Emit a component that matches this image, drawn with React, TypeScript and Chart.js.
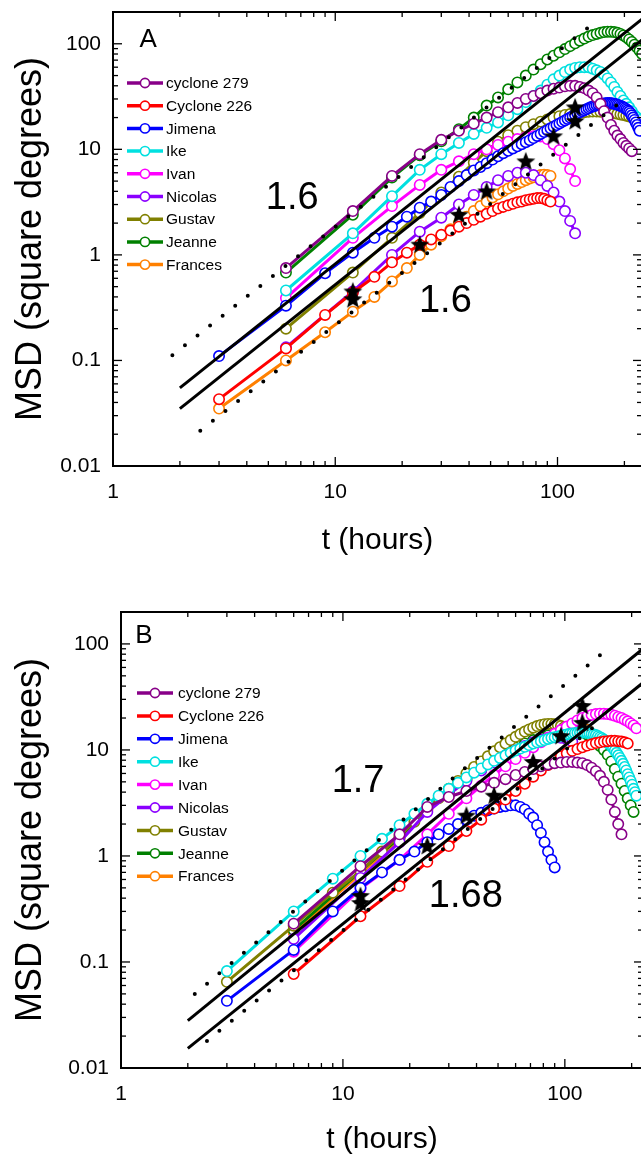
import React, { useEffect, useRef } from 'react';
import { Chart, registerables } from 'chart.js';

Chart.register(...registerables);

const FONT = "'Liberation Sans', Arial, Helvetica, sans-serif";

// sampling times (hours)
const hours3 = [3, 6, 9, 12, 15, 18, 21, 24, 27, 30, 33, 36, 39, 42, 45, 48, 51, 54, 57, 60, 63, 66, 69, 72, 75, 78, 81, 84, 87, 90, 93, 96, 99, 102, 105, 108, 111, 114, 117, 120, 123, 126, 129, 132, 135, 138, 141, 144, 147, 150, 153, 156, 159, 162, 165, 168, 171, 174, 177, 180, 183, 186, 189, 192, 195, 198, 201, 204, 207, 210, 213, 216, 219, 222, 225, 228, 231, 234, 237, 240];
const hours6 = [6, 12, 18, 24, 30, 36, 42, 48, 54, 60, 66, 72, 78, 84, 90, 96, 102, 108, 114, 120, 126, 132, 138, 144, 150, 156, 162, 168, 174, 180, 186, 192, 198, 204, 210, 216, 222, 228, 234, 240];

const seriesNames = ['cyclone 279', 'Cyclone 226', 'Jimena', 'Ike', 'Ivan', 'Nicolas', 'Gustav', 'Jeanne', 'Frances'];
const seriesColors = ['#880088', '#ff0000', '#0000ff', '#00e0e0', '#ff00ff', '#8b00ff', '#808000', '#008000', '#ff8000'];

// ---------- Panel A values (MSD, square degrees) ----------
const msdA_279 = [0.75, 2.6, 5.6, 9.0, 12.3, 15.0, 17.5, 20, 22.5, 25, 27.5, 30, 32, 34, 36, 37.5, 38.5, 39.5, 40, 40, 39, 38, 36, 34, 31, 27, 23, 20, 17, 15, 13.5, 12.5, 11.5, 10.8, 10.2, 9.6];
const msdA_226 = [0.043, 0.13, 0.27, 0.44, 0.62, 0.85, 1.05, 1.25, 1.4, 1.55, 1.7, 1.85, 2.0, 2.15, 2.3, 2.45, 2.6, 2.75, 2.85, 2.95, 3.05, 3.15, 3.2, 3.3, 3.35, 3.4, 3.45, 3.45, 3.4, 3.3, 3.2];
const msdA_Jimena = [0.11, 0.33, 0.67, 1.05, 1.45, 1.85, 2.3, 2.8, 3.2, 3.7, 4.4, 5.0, 5.7, 6.3, 6.8, 7.4, 8.0, 8.6, 9.2, 9.7, 10.2, 10.7, 11.2, 11.7, 12.2, 12.8, 13.4, 14, 14.6, 15.2, 15.8, 16.4, 17, 17.6, 18.2, 18.8, 19.4, 20, 20.6, 21.2, 21.8, 22.4, 23, 23.5, 24, 24.5, 25, 25.4, 25.8, 26.2, 26.5, 26.8, 27, 27.2, 27.3, 27.4, 27.4, 27.3, 27.2, 27, 26.8, 26.5, 26.2, 25.8, 25.4, 25, 24.5, 24, 23.4, 22.8, 22, 21, 20, 19, 18, 17, 16, 15];
const msdA_Ike = [0.46, 1.6, 3.6, 6.4, 9.0, 11.5, 14, 16, 18, 21, 24, 28, 32, 36, 41, 46, 50, 54, 57, 59, 60, 60, 60, 58, 56, 54, 51, 47, 43, 39, 35, 32, 29, 27, 25, 23, 21, 20, 19];
const msdA_Ivan = [0.39, 1.45, 2.9, 4.6, 6.4, 7.7, 9.0, 10, 11, 11.8, 12.5, 13, 13.3, 13.2, 12.5, 11.2, 9.8, 8.2, 6.5, 5.0];
const msdA_Nicolas = [0.133, 0.45, 1.0, 1.66, 2.25, 3.0, 3.7, 4.4, 5.1, 5.6, 6.0, 6.0, 5.7, 5.1, 4.5, 3.9, 3.2, 2.6, 2.1, 1.6];
const msdA_Gustav = [0.2, 0.68, 1.45, 2.5, 3.9, 5.5, 7.5, 9.6, 11.8, 13.6, 15, 16.2, 17.3, 18.3, 19.2, 20, 20.6, 21.2, 21.6, 22, 22.3, 22.5, 22.7, 22.8, 22.8, 22.7, 22.6, 22.4, 22.2, 22, 21.7, 21.4, 21.1, 20.8, 20.5, 20.2, 19.8, 19.4];
const msdA_Jeanne = [0.68, 2.4, 5.4, 8.8, 11.9, 15.5, 20, 26, 31, 37, 43, 50, 57, 64, 71, 77, 83, 89, 95, 101, 107, 112, 117, 121, 124, 127, 129, 130, 130, 129, 127, 124, 120, 115, 110, 104, 98, 92, 86, 80];
const msdA_Frances = [0.035, 0.1, 0.185, 0.29, 0.4, 0.56, 0.75, 1.0, 1.25, 1.5, 1.75, 2.0, 2.3, 2.6, 2.9, 3.2, 3.5, 3.75, 4.0, 4.25, 4.5, 4.7, 4.9, 5.1, 5.3, 5.45, 5.6, 5.7, 5.75, 5.7, 5.6];

// ---------- Panel B values ----------
const msdB_279 = [0.23, 0.8, 1.6, 2.9, 3.6, 4.1, 4.5, 4.9, 5.3, 5.8, 6.2, 6.6, 7.0, 7.3, 7.5, 7.6, 7.7, 7.7, 7.6, 7.5, 7.2, 6.8, 6.3, 5.7, 5.0, 4.2, 3.4, 2.6, 2.0, 1.6];
const msdB_226 = [0.077, 0.27, 0.52, 0.88, 1.24, 1.72, 2.2, 2.8, 3.4, 4.1, 4.8, 5.6, 6.4, 7.2, 8.0, 8.7, 9.3, 9.8, 10.2, 10.6, 11.0, 11.3, 11.6, 11.8, 12.0, 12.1, 12.2, 12.2, 12.1, 12.0, 11.8, 11.5];
const msdB_Jimena = [0.043, 0.13, 0.3, 0.5, 0.7, 0.92, 1.1, 1.35, 1.6, 1.8, 2.0, 2.2, 2.4, 2.55, 2.7, 2.8, 2.9, 2.95, 3.0, 3.0, 2.9, 2.75, 2.5, 2.3, 1.95, 1.65, 1.35, 1.1, 0.92, 0.78];
const msdB_Ike = [0.082, 0.30, 0.61, 1.0, 1.45, 1.95, 2.5, 3.1, 3.7, 4.3, 4.9, 5.5, 6.1, 6.7, 7.3, 7.9, 8.4, 8.9, 9.4, 9.9, 10.3, 10.7, 11.1, 11.5, 11.8, 12.1, 12.4, 12.7, 13.0, 13.2, 13.4, 13.6, 13.8, 14.0, 14.2, 14.3, 14.4, 14.5, 14.6, 14.6, 14.6, 14.5, 14.4, 14.2, 14.0, 13.8, 13.5, 13.2, 12.9, 12.5, 12.1, 11.7, 11.3, 10.9, 10.4, 9.9, 9.4, 8.9, 8.4, 7.9, 7.4, 6.9, 6.4, 5.9, 5.5, 5.1, 4.7, 4.3, 4.0, 3.7];
const msdB_Ivan = [0.125, 0.49, 0.92, 1.6, 2.5, 3.5, 4.6, 5.8, 7.0, 8.2, 9.4, 10.6, 11.8, 13, 14.2, 15.4, 16.6, 17.8, 19, 20, 20.8, 21.4, 21.8, 22, 22, 21.8, 21.5, 21, 20.5, 20, 19.3, 18.6, 17.8, 17, 16];
const msdB_Nicolas = [0.165, 0.62, 1.35, 2.6, 3.8, 5.1, 6.4, 7.6, 8.8, 9.9, 10.9, 11.8, 12.5, 13.0, 13.2, 13.0, 12.6, 12.0];
const msdB_Gustav = [0.065, 0.22, 0.45, 0.72, 1.1, 1.55, 2.1, 2.8, 3.5, 4.3, 5.1, 6.0, 6.9, 7.8, 8.7, 9.7, 10.6, 11.5, 12.4, 13.3, 14.1, 14.9, 15.6, 16.2, 16.8, 17.2, 17.5, 17.6, 17.6, 17.5, 17.2, 16.8, 16.3, 15.7, 15.0, 14.2];
const msdB_Jeanne = [0.2, 0.72, 1.5, 2.8, 4.0, 5.3, 6.6, 8.0, 9.3, 10.5, 11.5, 12.4, 13.1, 13.7, 14.2, 14.6, 14.9, 15.0, 15.0, 14.7, 14.0, 13.0, 12.0, 10.9, 10.0, 9.0, 7.8, 6.6, 5.6, 4.8, 4.1, 3.5, 3.0, 2.6];
const msdB_Frances = [0.19, 0.68, 1.45, 2.7, 3.9, 5.2, 6.5, 7.9, 9.1, 10.2, 11.2, 12.0, 12.8, 13.4, 13.8, 14.2, 14.6, 15.0, 15.3, 15.5, 15.5];

// ---------- fits, guide lines, stars ----------
const fitHoursA = [2, 240];
const fitUpperA = [0.055, 171];
const fitLowerA = [0.035, 109];
const dotUpperHoursA = [1.85, 150];
const dotUpperA = [0.112, 165];
const dotLowerHoursA = [2.47, 200];
const dotLowerA = [0.0216, 30];

const fitHoursB = [2, 225];
const fitUpperB = [0.028, 90];
const fitLowerB = [0.0153, 43];
const dotUpperHoursB = [2.15, 150];
const dotUpperB = [0.05, 84];
const dotLowerHoursB = [2.44, 150];
const dotLowerB = [0.018, 19.8];

const starHours = [12, 12, 24, 36, 48, 72, 96, 120, 120];
const starsA = [0.45, 0.38, 1.25, 2.4, 4.0, 7.7, 13.3, 25, 18.5];
const starsB = [0.42, 0.36, 1.24, 2.4, 3.7, 7.7, 13.5, 26, 18];

const decadeLabels = ['0.01', '0.1', '1', '10', '100'];

const panels = [
  {
    letter: 'A', top: 0, height: 580, left: 113, padTop: 12, xAxisH: 114, padRight: 18, xMax: 240, xTitlePad: 21,
    series: [msdA_279, msdA_226, msdA_Jimena, msdA_Ike, msdA_Ivan, msdA_Nicolas, msdA_Gustav, msdA_Jeanne, msdA_Frances],
    times: [hours6, hours3, hours3, hours6, hours6, hours6, hours6, hours6, hours3],
    fitHours: fitHoursA, fitUpper: fitUpperA, fitLower: fitLowerA,
    dotUpperHours: dotUpperHoursA, dotUpper: dotUpperA, dotLowerHours: dotLowerHoursA, dotLower: dotLowerA,
    stars: starsA,
    legend: { x0: 14, x1: 50, cx: 32, tx: 53, y0: 71, dy: 22.7 },
    texts: [
      { text: 'A', t: 1.44, v: 108, size: 26 },
      { text: '1.6', t: 6.4, v: 3.4, size: 38 },
      { text: '1.6', t: 31.3, v: 0.365, size: 38 },
    ],
  },
  {
    letter: 'B', top: 580, height: 578, left: 121, padTop: 32, xAxisH: 90, padRight: 17, xMax: 225, xTitlePad: 0,
    series: [msdB_279, msdB_226, msdB_Jimena, msdB_Ike, msdB_Ivan, msdB_Nicolas, msdB_Gustav, msdB_Jeanne, msdB_Frances],
    times: [hours6, hours6, hours3, hours3, hours6, hours6, hours3, hours6, hours6],
    fitHours: fitHoursB, fitUpper: fitUpperB, fitLower: fitLowerB,
    dotUpperHours: dotUpperHoursB, dotUpper: dotUpperB, dotLowerHours: dotLowerHoursB, dotLower: dotLowerB,
    stars: starsB,
    legend: { x0: 16, x1: 52, cx: 34, tx: 57, y0: 81, dy: 22.9 },
    texts: [
      { text: 'B', t: 1.27, v: 119, size: 26 },
      { text: '1.7', t: 11.7, v: 5.0, size: 38 },
      { text: '1.68', t: 35.8, v: 0.41, size: 38 },
    ],
  },
];

const CANVAS_W = 660;

function toPoints(ts: number[], vs: number[]) {
  return vs.map((v, i) => ({ x: ts[i], y: v }));
}

function makeStar(): HTMLCanvasElement {
  const c = document.createElement('canvas');
  c.width = 22;
  c.height = 22;
  const g = c.getContext('2d')!;
  g.fillStyle = '#000';
  g.beginPath();
  for (let i = 0; i < 10; i++) {
    const r = i % 2 === 0 ? 10 : 4.3;
    const a = -Math.PI / 2 + (i * Math.PI) / 5;
    const px = 11 + r * Math.cos(a);
    const py = 11.5 + r * Math.sin(a);
    if (i === 0) g.moveTo(px, py);
    else g.lineTo(px, py);
  }
  g.closePath();
  g.fill();
  return c;
}

function decadeLabel(value: any) {
  const l = Math.log10(Number(value));
  const r = Math.round(l);
  if (Math.abs(l - r) < 1e-6 && r >= -2 && r <= 2) return decadeLabels[r + 2];
  return null;
}

const decoPlugin = {
  id: 'deco',
  afterDraw(chart: any, _args: any, opts: any) {
    const { ctx, chartArea: a } = chart;
    const xs = chart.scales.x;
    const ys = chart.scales.y;
    ctx.save();
    ctx.strokeStyle = '#000';
    ctx.lineWidth = 1.3;
    const seg = (x1: number, y1: number, x2: number, y2: number) => {
      ctx.beginPath();
      ctx.moveTo(x1, y1);
      ctx.lineTo(x2, y2);
      ctx.stroke();
    };
    for (const d of [1, 10, 100]) {
      for (let m = 1; m <= 9; m++) {
        const v = d * m;
        if (v > xs.max) continue;
        const px = xs.getPixelForValue(v);
        const len = m === 1 ? 9 : 5;
        seg(px, a.bottom, px, a.bottom - len);
        seg(px, a.top, px, a.top + len);
      }
    }
    for (const d of [0.01, 0.1, 1, 10, 100]) {
      for (let m = 1; m <= 9; m++) {
        const v = d * m;
        if (v > ys.max * 1.0001) continue;
        const py = ys.getPixelForValue(v);
        const len = m === 1 ? 9 : 5;
        seg(a.left, py, a.left + len, py);
        seg(a.right, py, a.right - len, py);
      }
    }
    ctx.lineWidth = 2;
    ctx.strokeRect(a.left, a.top, a.right - a.left, a.bottom - a.top);

    // legend
    const lg = opts.legend;
    const dsets = chart.data.datasets;
    for (let i = 0; i < seriesNames.length; i++) {
      const ds = dsets[i];
      const y = a.top + lg.y0 + i * lg.dy;
      ctx.strokeStyle = ds.borderColor;
      ctx.lineWidth = 3.5;
      seg(a.left + lg.x0, y, a.left + lg.x1, y);
      ctx.beginPath();
      ctx.arc(a.left + lg.cx, y, 4.6, 0, Math.PI * 2);
      ctx.fillStyle = '#fff';
      ctx.fill();
      ctx.lineWidth = 1.6;
      ctx.stroke();
      ctx.fillStyle = '#000';
      ctx.font = `15.5px ${FONT}`;
      ctx.textAlign = 'left';
      ctx.textBaseline = 'middle';
      ctx.fillText(ds.label, a.left + lg.tx, y + 1);
    }

    // annotations
    for (const t of opts.texts) {
      ctx.fillStyle = '#000';
      ctx.font = `${t.size}px ${FONT}`;
      ctx.textAlign = 'center';
      ctx.textBaseline = 'middle';
      ctx.fillText(t.text, xs.getPixelForValue(t.t), ys.getPixelForValue(t.v));
    }
    ctx.restore();
  },
};

function buildConfig(p: any, star: HTMLCanvasElement): any {
  const datasets: any[] = p.series.map((vals: number[], i: number) => ({
    label: seriesNames[i],
    data: toPoints(p.times[i], vals),
    showLine: true,
    borderColor: seriesColors[i],
    backgroundColor: seriesColors[i],
    borderWidth: 3,
    pointRadius: 5.2,
    pointHoverRadius: 5.2,
    pointBorderWidth: 1.6,
    pointBorderColor: seriesColors[i],
    pointBackgroundColor: '#ffffff',
    order: 0,
  }));
  const guide = (label: string, ts: number[], vs: number[], dotted: boolean) => ({
    label,
    data: toPoints(ts, vs),
    showLine: true,
    borderColor: '#000',
    backgroundColor: '#000',
    borderWidth: dotted ? 4 : 3,
    borderDash: dotted ? [0, 16] : [],
    borderCapStyle: dotted ? 'round' : 'butt',
    pointRadius: 0,
    pointHoverRadius: 0,
    order: dotted ? -1 : -2,
  });
  datasets.push(guide('fit upper', p.fitHours, p.fitUpper, false));
  datasets.push(guide('fit lower', p.fitHours, p.fitLower, false));
  datasets.push(guide('guide upper', p.dotUpperHours, p.dotUpper, true));
  datasets.push(guide('guide lower', p.dotLowerHours, p.dotLower, true));
  datasets.push({
    label: 'mean',
    data: toPoints(starHours, p.stars),
    showLine: false,
    pointStyle: star,
    pointRadius: 10,
    pointHoverRadius: 10,
    order: -3,
  });

  return {
    type: 'scatter',
    data: { datasets },
    plugins: [decoPlugin],
    options: {
      animation: false,
      responsive: false,
      maintainAspectRatio: false,
      devicePixelRatio: 1,
      events: [],
      layout: { padding: { left: 0, top: p.padTop, right: p.padRight, bottom: 0 } },
      elements: { line: { tension: 0 } },
      plugins: {
        legend: { display: false },
        tooltip: { enabled: false },
        deco: { legend: p.legend, texts: p.texts },
      },
      scales: {
        x: {
          type: 'logarithmic',
          min: 1,
          max: p.xMax,
          grid: { display: false, drawTicks: false },
          border: { display: false },
          ticks: {
            autoSkip: false,
            maxRotation: 0,
            padding: 14,
            color: '#000',
            font: { family: FONT, size: 21 },
            callback: decadeLabel,
          },
          title: {
            display: true,
            text: 't (hours)',
            color: '#000',
            font: { family: FONT, size: 30 },
            padding: { top: 0, bottom: p.xTitlePad },
          },
          afterFit: (s: any) => {
            s.height = p.xAxisH;
            s.paddingLeft = 0;
            s.paddingRight = 0;
          },
        },
        y: {
          type: 'logarithmic',
          min: 0.01,
          max: 200,
          grid: { display: false, drawTicks: false },
          border: { display: false },
          ticks: {
            autoSkip: false,
            padding: 12,
            color: '#000',
            font: { family: FONT, size: 21 },
            callback: decadeLabel,
          },
          title: {
            display: true,
            text: 'MSD (square degrees)',
            color: '#000',
            font: { family: FONT, size: 36 },
            padding: { top: 9, bottom: 0 },
          },
          afterFit: (s: any) => {
            s.width = p.left;
            s.paddingTop = 0;
            s.paddingBottom = 0;
          },
        },
      },
    },
  };
}

export default function App() {
  const refA = useRef<HTMLCanvasElement | null>(null);
  const refB = useRef<HTMLCanvasElement | null>(null);

  useEffect(() => {
    const star = makeStar();
    const charts: Chart[] = [];
    [refA, refB].forEach((r, i) => {
      if (r.current) charts.push(new Chart(r.current, buildConfig(panels[i], star)));
    });
    return () => {
      charts.forEach((c) => c.destroy());
    };
  }, []);

  return (
    <div
      style={{
        position: 'fixed',
        left: 0,
        top: 0,
        width: 641,
        height: 1158,
        overflow: 'hidden',
        background: '#ffffff',
      }}
    >
      {panels.map((p, i) => (
        <canvas
          key={p.letter}
          ref={i === 0 ? refA : refB}
          width={CANVAS_W}
          height={p.height}
          style={{ position: 'absolute', left: 0, top: p.top, width: CANVAS_W, height: p.height }}
        />
      ))}
    </div>
  );
}
